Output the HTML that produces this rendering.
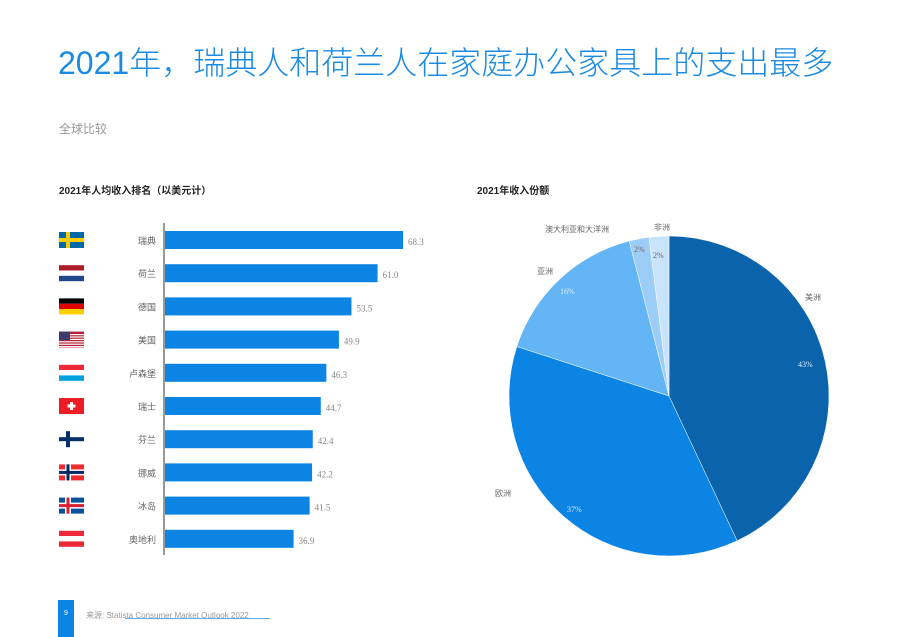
<!DOCTYPE html>
<html><head><meta charset="utf-8"><style>
body{margin:0;width:920px;height:637px;background:#fff;font-family:"Liberation Sans","Noto Sans CJK SC",sans-serif;overflow:hidden;position:relative}
.t{position:absolute;white-space:nowrap}
</style></head><body>
<div class="t" style="left:58px;top:38px;font-size:32px;color:#1a8be0;font-weight:300">2021年，瑞典人和荷兰人在家庭办公家具上的支出最多</div>
<div class="t" style="left:59px;top:120px;font-size:12px;color:#999">全球比较</div>
<div class="t" style="left:59px;top:182px;font-size:10px;font-weight:bold;color:#222">2021年人均收入排名（以美元计）</div>
<div class="t" style="left:477px;top:182px;font-size:10px;font-weight:bold;color:#222">2021年收入份额</div>
<svg id="bars" width="920" height="637" style="position:absolute;left:0;top:0"></svg>
<div style="position:absolute;left:58px;top:600px;width:16px;height:37px;background:#0b84e3;color:#fff;font-size:7px;text-align:center;line-height:28px">9</div>
<div class="t" style="left:86px;top:610px;font-size:8px;color:#999">来源:  Statista Consumer Market Outlook 2022</div>
<div style="position:absolute;left:125px;top:618px;width:145px;height:1px;background:#6aa9e0"></div>
<script>
const countries=["瑞典","荷兰","德国","美国","卢森堡","瑞士","芬兰","挪威","冰岛","奥地利"];
const values=[68.3,61.0,53.5,49.9,46.3,44.7,42.4,42.2,41.5,36.9];
const regions=["美洲","欧洲","亚洲","澳大利亚和大洋洲","非洲"];
const shares=[43,37,16,2,2];
const NS="http://www.w3.org/2000/svg";
const svg=document.getElementById('bars');
function mk(t,a,p){const e=document.createElementNS(NS,t);for(const k in a)e.setAttribute(k,a[k]);(p||svg).appendChild(e);return e;}
const x0=165,xs=v=>v*3.485,y=i=>231+i*33.2;
const flags=[
 [["#006aa7",0,0,25,16],["#fecc00",7,0,4,16],["#fecc00",0,6,25,4]],
 [["#ae1c28",0,0,25,5.3],["#fff",0,5.3,25,5.3],["#21468b",0,10.6,25,5.4]],
 [["#000",0,0,25,5.3],["#dd0000",0,5.3,25,5.3],["#ffce00",0,10.6,25,5.4]],
 [["#b22234",0,0,25,16],["#fff",0,2.4,25,1.2],["#fff",0,4.8,25,1.2],["#fff",0,7.2,25,1.2],["#fff",0,9.6,25,1.2],["#fff",0,12,25,1.2],["#fff",0,14.4,25,1.2],["#3c3b6e",0,0,11,8.5]],
 [["#ed2939",0,0,25,5.3],["#fff",0,5.3,25,5.3],["#00a1de",0,10.6,25,5.4]],
 [["#ee1c25",0,0,25,16],["#fff",11,4,3,8],["#fff",8.5,6.5,8,3]],
 [["#fff",0,0,25,16],["#002f6c",7,0,4,16],["#002f6c",0,6,25,4]],
 [["#ef2b2d",0,0,25,16],["#fff",6,0,6,16],["#fff",0,5,25,6],["#002868",7.5,0,3,16],["#002868",0,6.5,25,3]],
 [["#02529c",0,0,25,16],["#fff",6,0,6,16],["#fff",0,5,25,6],["#dc1e35",7.5,0,3,16],["#dc1e35",0,6.5,25,3]],
 [["#ed2939",0,0,25,5.3],["#fff",0,5.3,25,5.3],["#ed2939",0,10.6,25,5.4]]];
countries.forEach((c,i)=>{
 const yy=y(i);
 const g=mk('g',{transform:`translate(59,${yy+1})`});
 
 
 (flags[i]||[]).forEach(f=>mk('rect',{fill:f[0],x:f[1],y:f[2],width:f[3],height:f[4]},g));
 const lb=mk('text',{x:156,y:yy+13,'text-anchor':'end','font-size':9,fill:'#666'});lb.textContent=c;
 
 
 const r=mk('rect',{x:x0,y:yy,width:xs(values[i]),height:18,fill:'#0b84e3'});
 
 
 const v=mk('text',{x:x0+xs(values[i])+5,y:yy+14,'font-size':9,fill:'#888','font-family':'Liberation Serif'});v.textContent=values[i].toFixed(1);
 
 
});
const ax=mk('line',{x1:164,x2:164,y1:223,y2:555,stroke:'#333','stroke-width':1});


// pie
const cx=669,cy=396,R=160,cols=["#0a63ab","#0b84e3","#63b5f6","#9ccdf7","#c8e4fb"];
const lpos=[[805,300],[495,496],[537,274],[545,232],[654,230]];
const ppos=[[798,367],[567,512],[560,294],[634,252],[653,258]];
let a=0;
shares.forEach((s,i)=>{
 const a1=a+s/100*2*Math.PI;
 const p=(t)=>[cx+R*Math.sin(t),cy-R*Math.cos(t)];
 const [x1,y1]=p(a),[x2,y2]=p(a1);
 const sl=mk('path',{d:`M${cx},${cy}L${x1},${y1}A${R},${R} 0 ${a1-a>Math.PI?1:0} 1 ${x2},${y2}Z`,fill:cols[i],stroke:'#fff','stroke-width':0.5});
 
 
 const l=mk('text',{x:lpos[i][0],y:lpos[i][1],'font-size':8,fill:'#666'});l.textContent=regions[i];
 
 
 const pc=mk('text',{x:ppos[i][0],y:ppos[i][1],'font-size':8,fill:i>2?'#666':'#ddeeff','font-family':'Liberation Serif'});pc.textContent=s+'%';
 
 
 a=a1;
});
</script>
</body></html>
